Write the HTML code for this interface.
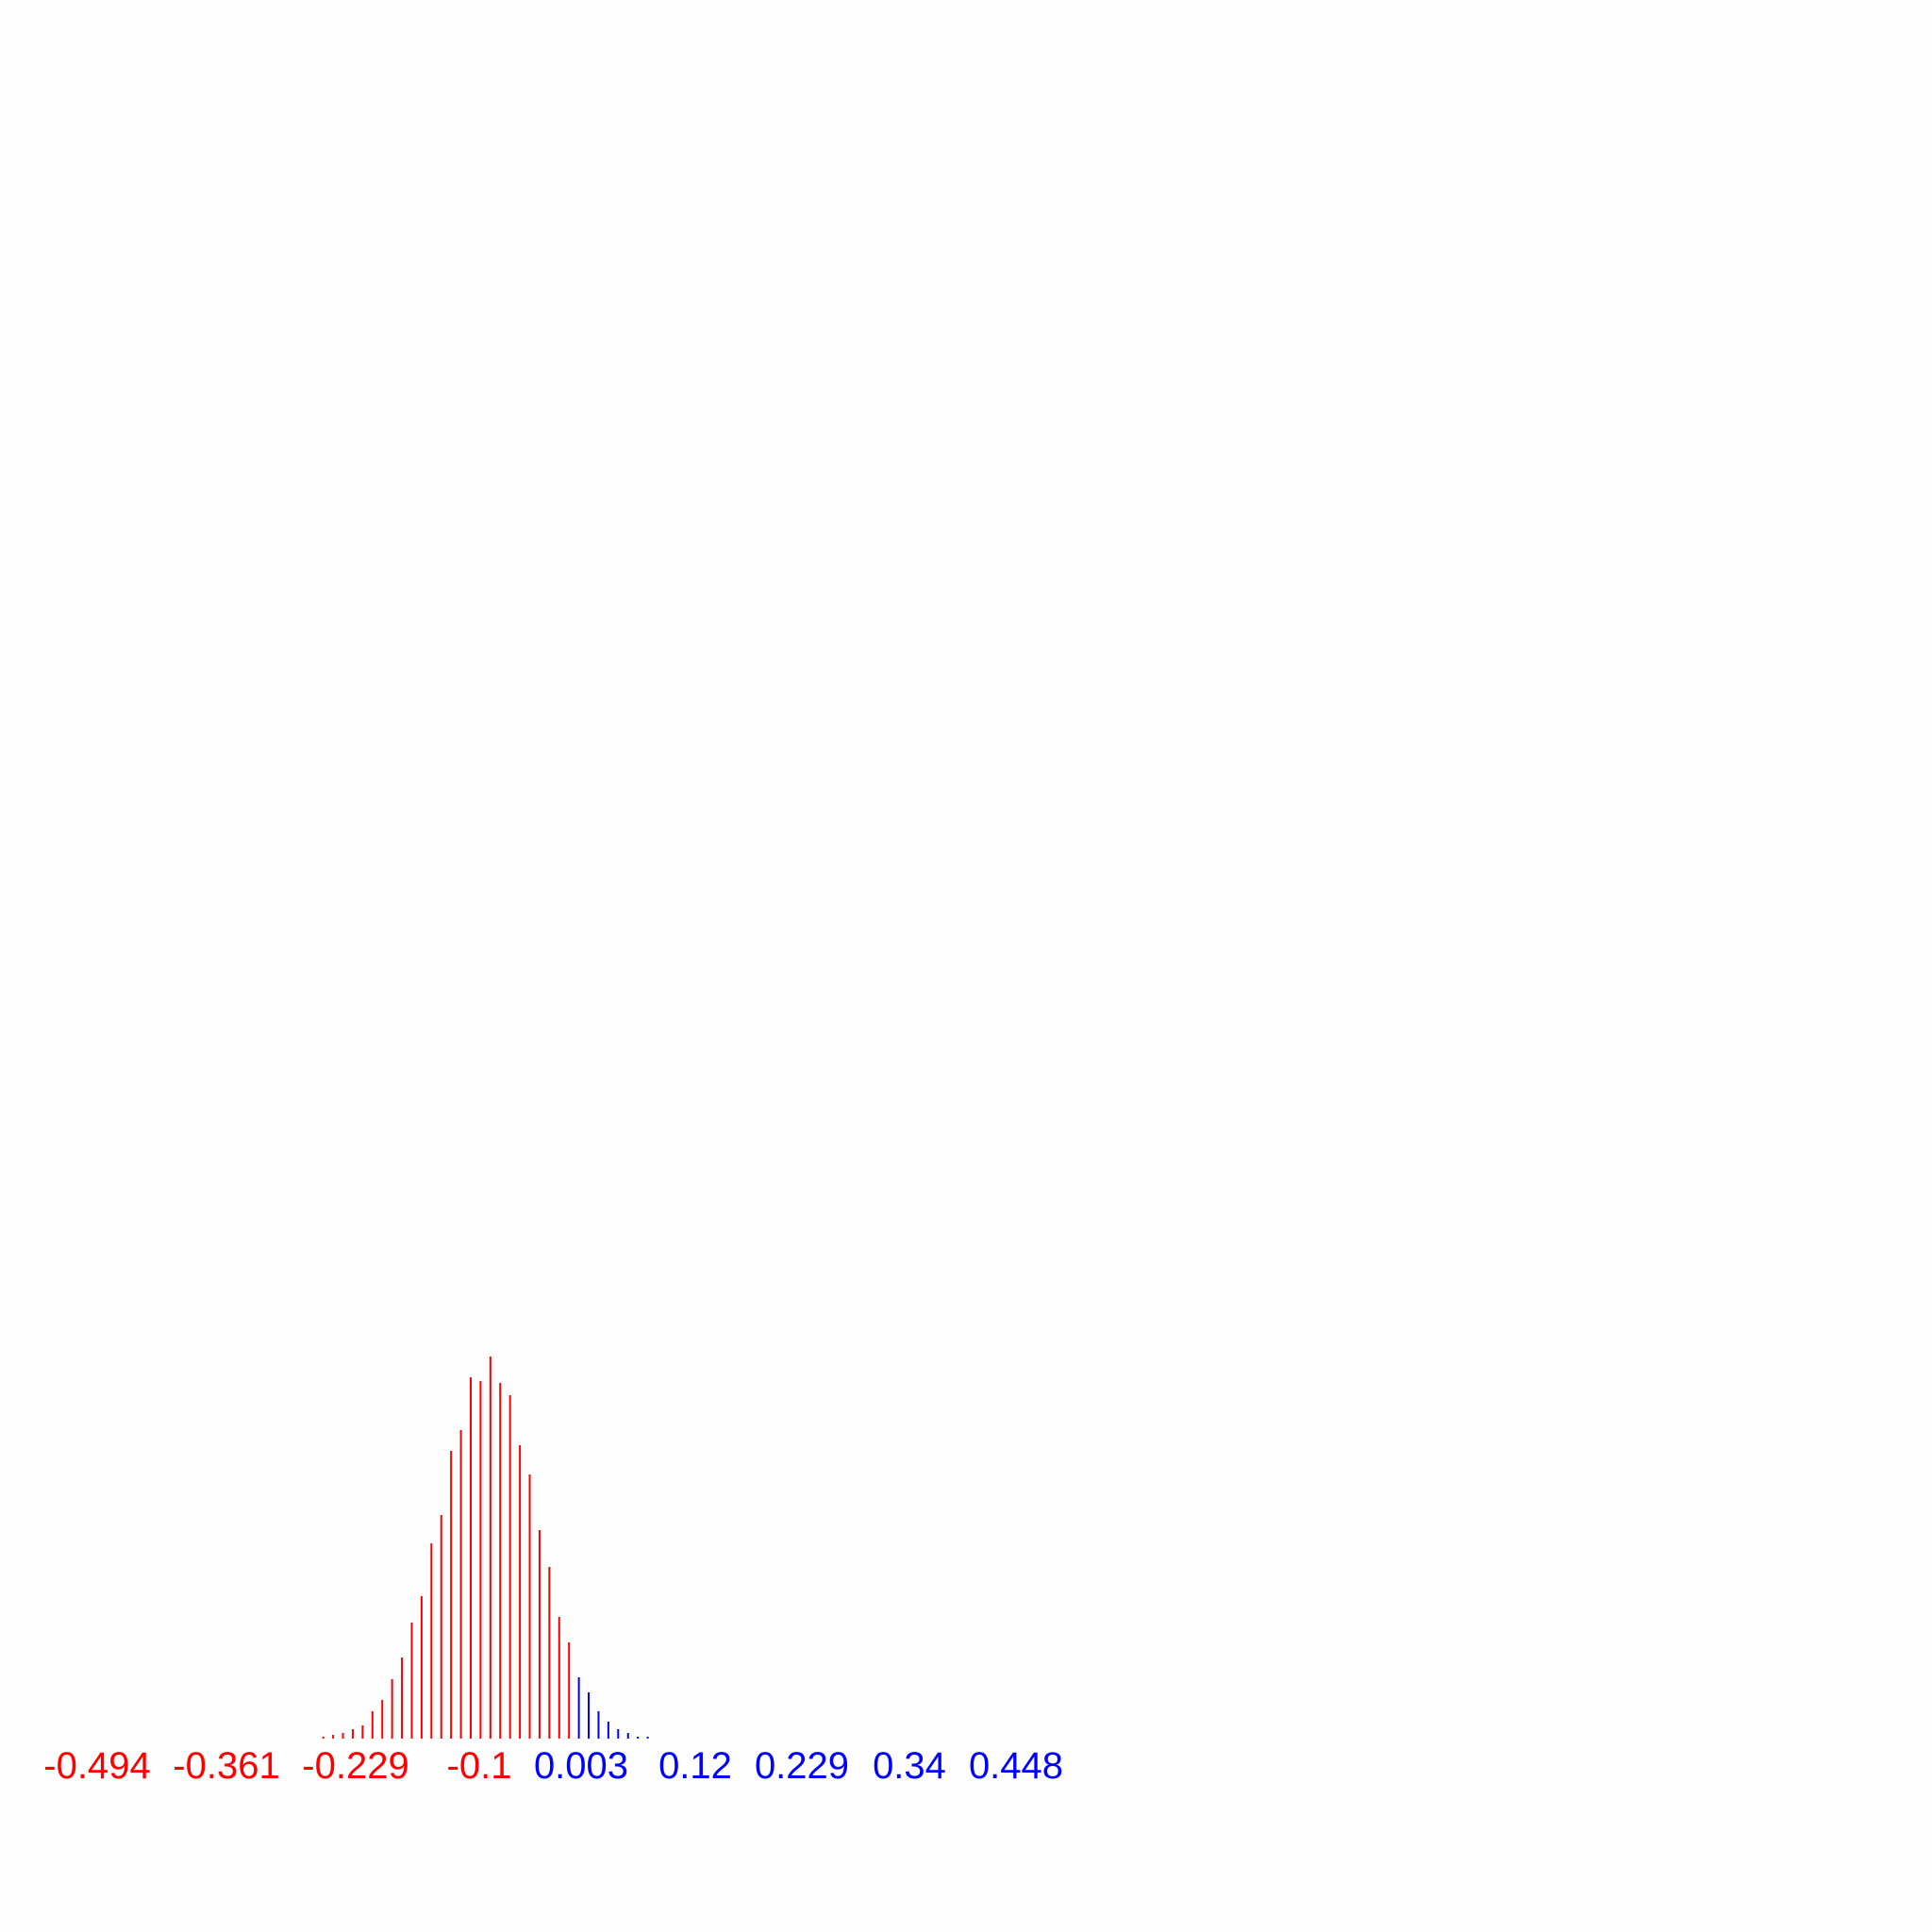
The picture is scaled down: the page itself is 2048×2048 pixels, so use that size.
<!DOCTYPE html>
<html><head><meta charset="utf-8"><style>
html,body{margin:0;padding:0;background:#fefefe;}
svg{display:block;}
text{font-family:"Liberation Sans",Arial,sans-serif;font-size:40px;}
</style></head>
<body>
<svg id="chart" width="2048" height="2048" viewBox="0 0 2048 2048">
<rect width="2048" height="2048" fill="#fefefe"/>
<g id="bars"></g>
<g id="labels"></g>
</svg>
<script>
const counts = [2,4,6,10,14,29,41,63,86,123,151,207,237,305,327,383,379,405,377,364,311,280,221,182,129,102,65,49,29,18,10,6,2,2];
const binSign = [0,0,0,0,0,0,0,0,0,0,0,0,0,0,0,0,0,0,0,0,0,0,0,0,0,0,1,1,1,1,1,1,1,1];
const tickLabels = ["-0.494","-0.361","-0.229","-0.1","0.003","0.12","0.229","0.34","0.448"];
const tickPos = [103,240,377,508,616,737,850,964,1077];

const x0 = 342.7, step = 10.42, baseY = 1843, yScale = 1.0;
function xOf(i){ return x0 + i*step; }
function yOf(v){ return baseY - v*yScale; }

const ns = "http://www.w3.org/2000/svg";
const gb = document.getElementById('bars');
counts.forEach((c,i)=>{
  const l = document.createElementNS(ns,'line');
  
  
  l.setAttribute('x1',xOf(i)); l.setAttribute('x2',xOf(i));
  l.setAttribute('y1',baseY); l.setAttribute('y2',yOf(c));
  l.setAttribute('stroke', binSign[i] ? '#0000ff' : '#ff0000');
  l.setAttribute('stroke-width','2');
  gb.appendChild(l);
});
const gl = document.getElementById('labels');
tickLabels.forEach((t,i)=>{
  const e = document.createElementNS(ns,'text');
  
  
  e.setAttribute('x',tickPos[i]); e.setAttribute('y',1885);
  e.setAttribute('text-anchor','middle');
  e.setAttribute('fill', t.startsWith('-') ? '#ff0000' : '#0000ff');
  e.textContent = t;
  gl.appendChild(e);
});
</script>
</body></html>
